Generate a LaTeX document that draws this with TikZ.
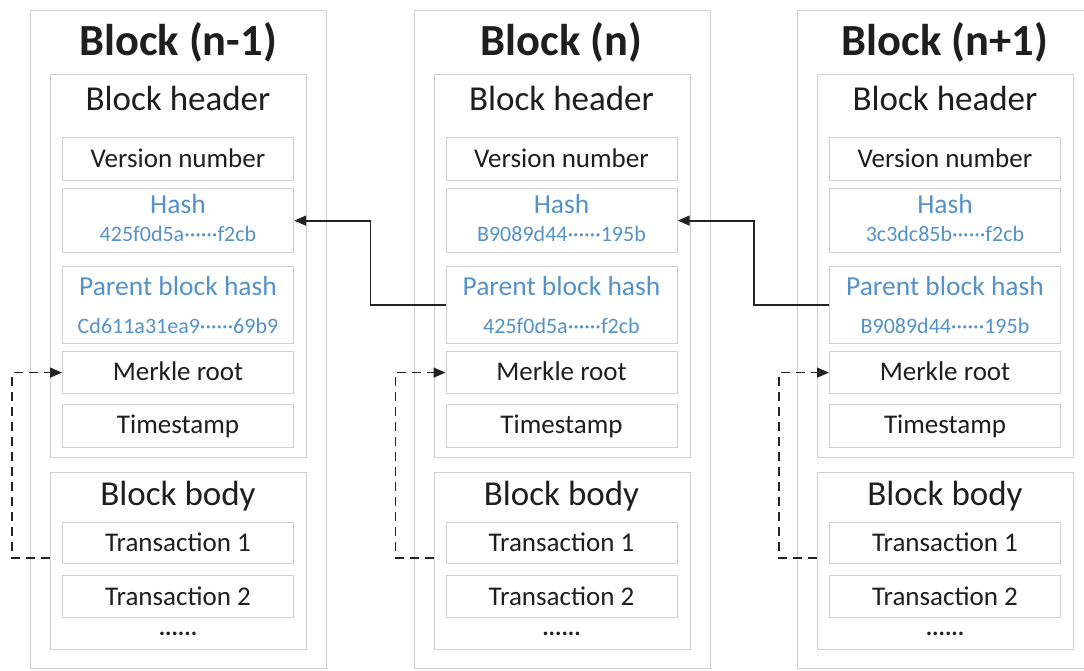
\documentclass[tikz,border=0pt]{standalone}
\usepackage{fontspec}
\setmainfont{Carlito}
\usetikzlibrary{arrows.meta,calc}
\definecolor{bord}{RGB}{208,208,212}
\definecolor{hblue}{RGB}{84,146,200}
\definecolor{txt}{RGB}{30,30,30}
\definecolor{ln}{RGB}{35,35,35}
\begin{document}
\begin{tikzpicture}[x=1pt,y=-1pt,
  box/.style={draw=bord,line width=1.2pt,fill=white,inner sep=0pt,anchor=north west},
  lbl/.style={anchor=base,inner sep=0pt,text=txt,font=\fontsize{27}{31}\selectfont},
  ttl/.style={anchor=base,inner sep=0pt,text=txt,font=\fontsize{44.5}{50}\selectfont\bfseries},
  sec/.style={anchor=base,inner sep=0pt,text=txt,font=\fontsize{35}{40}\selectfont},
  blbl/.style={anchor=base,inner sep=0pt,text=hblue,font=\fontsize{27.5}{31}\selectfont},
  bval/.style={anchor=base,inner sep=0pt,text=hblue,font=\fontsize{22}{26}\selectfont},
  sol/.style={draw=ln,line width=1.8pt,-{Triangle[length=12pt,width=10pt]}},
  dsh/.style={draw=ln,line width=1.5pt,dash pattern=on 9pt off 6pt,-{Triangle[length=12pt,width=10pt]}}]
\useasboundingbox (0,0) rectangle (1084,670);
\fill[white] (0,0) rectangle (1084,670);
\foreach \c/\dx/\ttltext/\hv/\pv in {
  A/0/{Block (n-1)}/{425f0d5a······f2cb}/{Cd611a31ea9······69b9},
  B/383.5/{Block (n)}/{B9089d44······195b}/{425f0d5a······f2cb},
  C/767/{Block (n+1)}/{3c3dc85b······f2cb}/{B9089d44······195b}}{
\begin{scope}[shift={(\dx,0)}]
  \node[box,minimum width=296,minimum height=658] (outer\c) at (30,10) {};
  \node[ttl] (title\c) at (178,55) {\ttltext};
  \node[box,minimum width=256,minimum height=383] (header\c) at (50,74) {};
  \node[sec] (hlabel\c) at (178,110) {Block header};
  \node[box,minimum width=231,minimum height=43] (ver\c) at (62,137) {};
  \node[lbl] (verl\c) at (178,167) {Version number};
  \node[box,minimum width=231,minimum height=64] (hash\c) at (62,188) {};
  \node[blbl] (hashl\c) at (178,213) {Hash};
  \node[bval] (hashv\c) at (178,241) {\hv};
  \node[box,minimum width=231,minimum height=77] (parent\c) at (62,266) {};
  \node[blbl] (parentl\c) at (178,295) {Parent block hash};
  \node[bval] (parentv\c) at (178,333) {\pv};
  \node[box,minimum width=231,minimum height=42] (merkle\c) at (62,351) {};
  \node[lbl] (merklel\c) at (178,380) {Merkle root};
  \node[box,minimum width=231,minimum height=43] (time\c) at (62,404) {};
  \node[lbl] (timel\c) at (178,433) {Timestamp};
  \node[box,minimum width=256,minimum height=177] (body\c) at (50,472) {};
  \node[sec] (blabel\c) at (178,505) {Block body};
  \node[box,minimum width=231,minimum height=41] (txa\c) at (62,522) {};
  \node[lbl] (txal\c) at (178,551) {Transaction 1};
  \node[box,minimum width=231,minimum height=42] (txb\c) at (62,575) {};
  \node[lbl] (txbl\c) at (178,605) {Transaction 2};
  \node[lbl,font=\fontsize{24}{28}\selectfont\bfseries] (dots\c) at (178,635) {......};
  \coordinate (d\c) at (50,558);
\end{scope}
}
\foreach \c in {A,B,C}{
  \draw[dsh] (d\c) -- ++(-38,0) |- (merkle\c.west);
}
\draw[sol] (parentB.west) -- ++(-75,0) |- (hashA.east);
\draw[sol] (parentC.west) -- ++(-75,0) |- (hashB.east);
\end{tikzpicture}
\end{document}
